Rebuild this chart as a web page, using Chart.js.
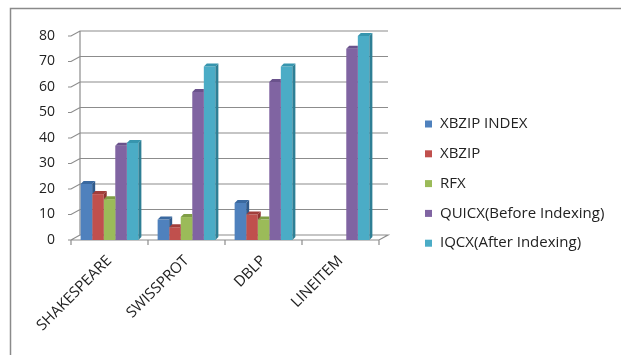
<!DOCTYPE html>
<html>
<head>
<meta charset="utf-8">
<script src="https://cdn.jsdelivr.net/npm/chart.js@4.4.0/dist/chart.umd.min.js"></script>
<style>
  html, body { margin: 0; padding: 0; background: #fff; }
  #chart { display: block; }
</style>
</head>
<body>
<canvas id="chart" width="621" height="355"></canvas>
<script>
// datasets compared across the four document collections
const categories = ['SHAKESPEARE', 'SWISSPROT', 'DBLP', 'LINEITEM'];
const seriesNames = ['XBZIP INDEX', 'XBZIP', 'RFX', 'QUICX(Before Indexing)', 'IQCX(After Indexing)'];
const xbzipIndex = [22, 8, 14.5, null];
const xbzip = [18, 5, 10, null];
const rfx = [16, 9, 8, null];
const quicx = [37, 58, 62, 75];
const iqcx = [38, 68, 68, 80];
const yTicks = [0, 10, 20, 30, 40, 50, 60, 70, 80];

const frontColors = ['#4F81BD', '#C0504D', '#9BBB59', '#8064A2', '#4BACC6'];
const sideColors = ['#2F5A8C', '#8E3432', '#6F8B3A', '#5A437A', '#2E7F95'];
const topColors = ['#3A69A0', '#A23E3B', '#809E46', '#6A528C', '#3795AE'];

const seriesValues = [xbzipIndex, xbzip, rfx, quicx, iqcx];

// depth of each bar and of the back wall
const BAR_DX = 3, BAR_DY = -3;
const WALL_DX = 9, WALL_DY = -5;
const GRID_COLOR = '#8c8c8c';
const FONT = 'Open Sans';

const framePlugin = {
  id: 'frame',
  beforeDraw(chart) {
    const ctx = chart.ctx;
    ctx.save();
    ctx.fillStyle = '#fff';
    ctx.fillRect(0, 0, chart.width, chart.height);
    ctx.strokeStyle = '#8a8a8a';
    ctx.lineWidth = 1.5;
    ctx.beginPath();
    ctx.moveTo(10.5, chart.height);
    ctx.lineTo(10.5, 8.5);
    ctx.lineTo(chart.width, 8.5);
    ctx.stroke();
    ctx.restore();
  }
};

// back wall gridlines, floor and category ticks
const wallPlugin = {
  id: 'wall',
  beforeDatasetsDraw(chart) {
    const ctx = chart.ctx;
    const y = chart.scales.y;
    const left = chart.chartArea.left, right = chart.chartArea.right;
    const y0 = y.getPixelForValue(0);
    ctx.save();
    ctx.strokeStyle = GRID_COLOR;
    ctx.lineWidth = 1.2;
    ctx.beginPath();
    yTicks.forEach(v => {
      const py = y.getPixelForValue(v);
      ctx.moveTo(left - 3, py);
      ctx.lineTo(left, py);
      ctx.lineTo(left + WALL_DX, py + WALL_DY);
      if (v !== 0) ctx.lineTo(right + WALL_DX, py + WALL_DY);
    });
    // left edge of the back wall
    ctx.moveTo(left + WALL_DX, y0 + WALL_DY);
    ctx.lineTo(left + WALL_DX, y.getPixelForValue(80) + WALL_DY);
    // floor
    ctx.moveTo(left + WALL_DX, y0 + WALL_DY);
    ctx.lineTo(right + WALL_DX, y0 + WALL_DY);
    ctx.lineTo(right, y0);
    ctx.lineTo(left, y0);
    // category separators below the floor
    const step = (right - left) / categories.length;
    for (let i = 0; i <= categories.length; i++) {
      const px = left + step * i;
      ctx.moveTo(px, y0);
      ctx.lineTo(px, y0 + 5);
    }
    ctx.stroke();
    ctx.restore();
  }
};

// side and top faces; the front of the next bar in the group hides what lies behind it
const depthPlugin = {
  id: 'depth',
  afterDatasetsDraw(chart) {
    const ctx = chart.ctx;
    for (let i = 0; i < seriesValues.length; i++) {
      const meta = chart.getDatasetMeta(i);
      meta.data.forEach((bar, j) => {
        if (seriesValues[i][j] == null) return;
        const p = bar.getProps(['x', 'y', 'base', 'width'], true);
        const l = p.x - p.width / 2, r = p.x + p.width / 2;
        ctx.save();
        const next = i + 1 < seriesValues.length && seriesValues[i + 1][j] != null
          ? chart.getDatasetMeta(i + 1).data[j].getProps(['x', 'y', 'base', 'width'], true)
          : null;
        if (next) {
          ctx.beginPath();
          ctx.rect(0, 0, chart.width, chart.height);
          ctx.rect(next.x - next.width / 2, next.y, next.width, next.base - next.y);
          ctx.clip('evenodd');
        }
        ctx.fillStyle = sideColors[i];
        ctx.beginPath();
        ctx.moveTo(r, p.y);
        ctx.lineTo(r + BAR_DX, p.y + BAR_DY);
        ctx.lineTo(r + BAR_DX, p.base + BAR_DY);
        ctx.lineTo(r, p.base);
        ctx.closePath();
        ctx.fill();
        ctx.fillStyle = topColors[i];
        ctx.beginPath();
        ctx.moveTo(l, p.y);
        ctx.lineTo(l + BAR_DX, p.y + BAR_DY);
        ctx.lineTo(r + BAR_DX, p.y + BAR_DY);
        ctx.lineTo(r, p.y);
        ctx.closePath();
        ctx.fill();
        ctx.restore();
      });
    }
  }
};

const legendPlugin = {
  id: 'sideLegend',
  afterDraw(chart) {
    const ctx = chart.ctx;
    ctx.save();
    ctx.font = '15px "' + FONT + '"';
    ctx.textBaseline = 'middle';
    seriesNames.forEach((name, i) => {
      const cy = 124 + i * 29.8;
      ctx.fillStyle = frontColors[i];
      ctx.fillRect(425, cy - 3.5, 7, 7);
      ctx.fillStyle = '#222';
      ctx.fillText(name, 440, cy);
    });
    ctx.restore();
  }
};

new Chart(document.getElementById('chart'), {
  type: 'bar',
  data: {
    labels: categories,
    datasets: seriesNames.map((name, i) => ({
      label: name,
      data: seriesValues[i],
      backgroundColor: frontColors[i],
      borderWidth: 0,
      categoryPercentage: 0.75,
      barPercentage: 1.0
    }))
  },
  options: {
    responsive: false,
    animation: false,
    layout: { padding: { left: 11, top: 36, right: 242, bottom: 0 } },
    plugins: {
      legend: { display: false },
      tooltip: { enabled: false }
    },
    scales: {
      x: {
        grid: { display: false, drawTicks: false },
        border: { display: false },
        ticks: {
          color: '#222',
          font: { family: FONT, size: 15 },
          minRotation: 45,
          maxRotation: 45,
          padding: 12
        },
        afterFit: (s) => { s.height = 115; }
      },
      y: {
        min: 0,
        max: 80,
        grid: { display: false, drawTicks: false },
        border: { display: false },
        ticks: {
          stepSize: 10,
          color: '#222',
          font: { family: FONT, size: 14 },
          padding: 16
        },
        afterFit: (s) => { s.width = 60; }
      }
    }
  },
  plugins: [framePlugin, wallPlugin, depthPlugin, legendPlugin]
});
</script>
</body>
</html>
